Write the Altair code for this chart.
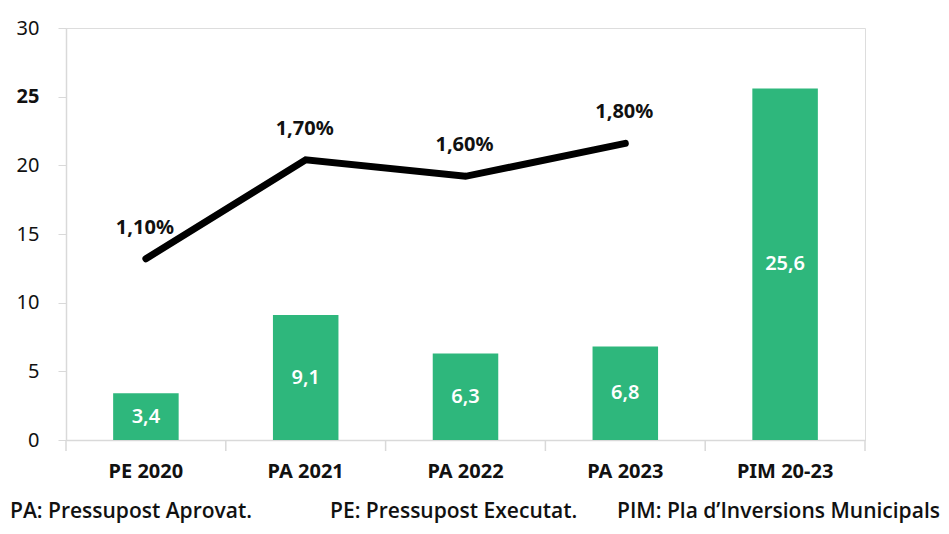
import altair as alt
import pandas as pd

categories = ["PE 2020", "PA 2021", "PA 2022", "PA 2023", "PIM 20-23"]
bar_values = [3.4, 9.1, 6.3, 6.8, 25.6]
line_cats = ["PE 2020", "PA 2021", "PA 2022", "PA 2023"]
line_values = [1.10, 1.70, 1.60, 1.80]
footer_notes = ["PA: Pressupost Aprovat.", "PE: Pressupost Executat.", "PIM: Pla d\u2019Inversions Municipals"]
footer_x = [-56, 264, 551]

W, H = 799, 412
FONT = "Noto Sans"
GREEN = "#2EB77C"
AXIS_GRAY = "#d9d9d9"
FS = 20

bars_df = pd.DataFrame({"cat": categories, "val": bar_values})
bars_df["lbl"] = [f"{v:.1f}".replace(".", ",") for v in bar_values]
line_df = pd.DataFrame({"cat": line_cats, "pct": line_values})
line_df["lbl"] = [f"{v:.2f}".replace(".", ",") + "%" for v in line_values]
foot_df = pd.DataFrame({"txt": footer_notes, "px": footer_x})
edge_df = pd.DataFrame({"cat": categories})

xscale = alt.Scale(domain=categories, paddingInner=0, paddingOuter=0)
x_enc = alt.X("cat:N", scale=xscale, sort=categories,
              axis=alt.Axis(title=None, labelAngle=0, ticks=False, labelPadding=21,
                            labelFont=FONT, labelFontSize=FS, labelFontWeight="bold",
                            labelColor="#111111", domainColor=AXIS_GRAY, domainWidth=1.5))

yleft = alt.Y("val:Q", scale=alt.Scale(domain=[0, 30]),
              axis=alt.Axis(title=None, values=[0, 5, 10, 15, 20, 25, 30], grid=False,
                            tickSize=8, tickColor=AXIS_GRAY, domainColor=AXIS_GRAY,
                            domainWidth=1.5, labelPadding=19, labelFont=FONT,
                            labelFontSize=FS, labelColor="#111111",
                            labelFontWeight={"condition": {"test": "datum.value == 25", "value": "bold"}, "value": "normal"}))

bars = alt.Chart(bars_df).mark_bar(color=GREEN, width=alt.RelativeBandSize(0.41)).encode(
    x=x_enc, y=yleft)
bar_text = alt.Chart(bars_df).transform_calculate(mid="datum.val/2").mark_text(
    font=FONT, fontSize=FS, fontWeight=600, color="white", baseline="middle").encode(
    x=alt.X("cat:N", scale=xscale, sort=categories),
    y=alt.Y("mid:Q", scale=alt.Scale(domain=[0, 30])), text="lbl:N")

left = alt.layer(bars, bar_text)

yright_scale = alt.Scale(domain=[0, 2.5])
yright = alt.Y("pct:Q", scale=yright_scale,
               axis=alt.Axis(title=None, orient="right", values=[0, 0.5, 1, 1.5, 2, 2.5],
                             grid=False, tickSize=9, tickColor=AXIS_GRAY, domainColor=AXIS_GRAY,
                             domainWidth=1.5, labelPadding=15, labelFont=FONT, labelFontSize=FS,
                             labelColor="#111111",
                             labelExpr="replace(format(datum.value, '.1f'), '.', ',') + '%'"))

line = alt.Chart(line_df).mark_line(color="black", strokeWidth=7, strokeCap="round").encode(
    x=alt.X("cat:N", scale=xscale, sort=categories), y=yright)
line_text = alt.Chart(line_df).mark_text(font=FONT, fontSize=FS, fontWeight="bold",
                                         color="#111111", dy=-31, dx=-1).encode(
    x=alt.X("cat:N", scale=xscale, sort=categories),
    y=alt.Y("pct:Q", scale=yright_scale, axis=None), text="lbl:N")

right = alt.layer(line, line_text)

ticks = alt.Chart(edge_df).mark_rule(color=AXIS_GRAY, strokeWidth=1.5).encode(
    x=alt.X("cat:N", scale=xscale, sort=categories, bandPosition=0),
    y=alt.value(H), y2=alt.value(H + 11))
ticks_end = alt.Chart(edge_df.tail(1)).mark_rule(color=AXIS_GRAY, strokeWidth=1.5).encode(
    x=alt.X("cat:N", scale=xscale, sort=categories, bandPosition=1),
    y=alt.value(H), y2=alt.value(H + 11))

footer = alt.Chart(foot_df).mark_text(font="Open Sans", fontSize=21, fontWeight=600,
                                      align="left", baseline="alphabetic", color="#111111").encode(
    x=alt.X("px:Q", scale=None), y=alt.value(H + 78), text="txt:N")

chart = alt.layer(left, right, ticks, ticks_end, footer).resolve_scale(y="independent").properties(
    width=W, height=H,
    autosize=alt.AutoSizeParams(type="none"),
    padding={"left": 58, "top": 20, "right": 76, "bottom": 86},
).configure_view(stroke=None).configure(background="white")

chart.save("out.html", embed_options={"renderer": "svg", "actions": False})
